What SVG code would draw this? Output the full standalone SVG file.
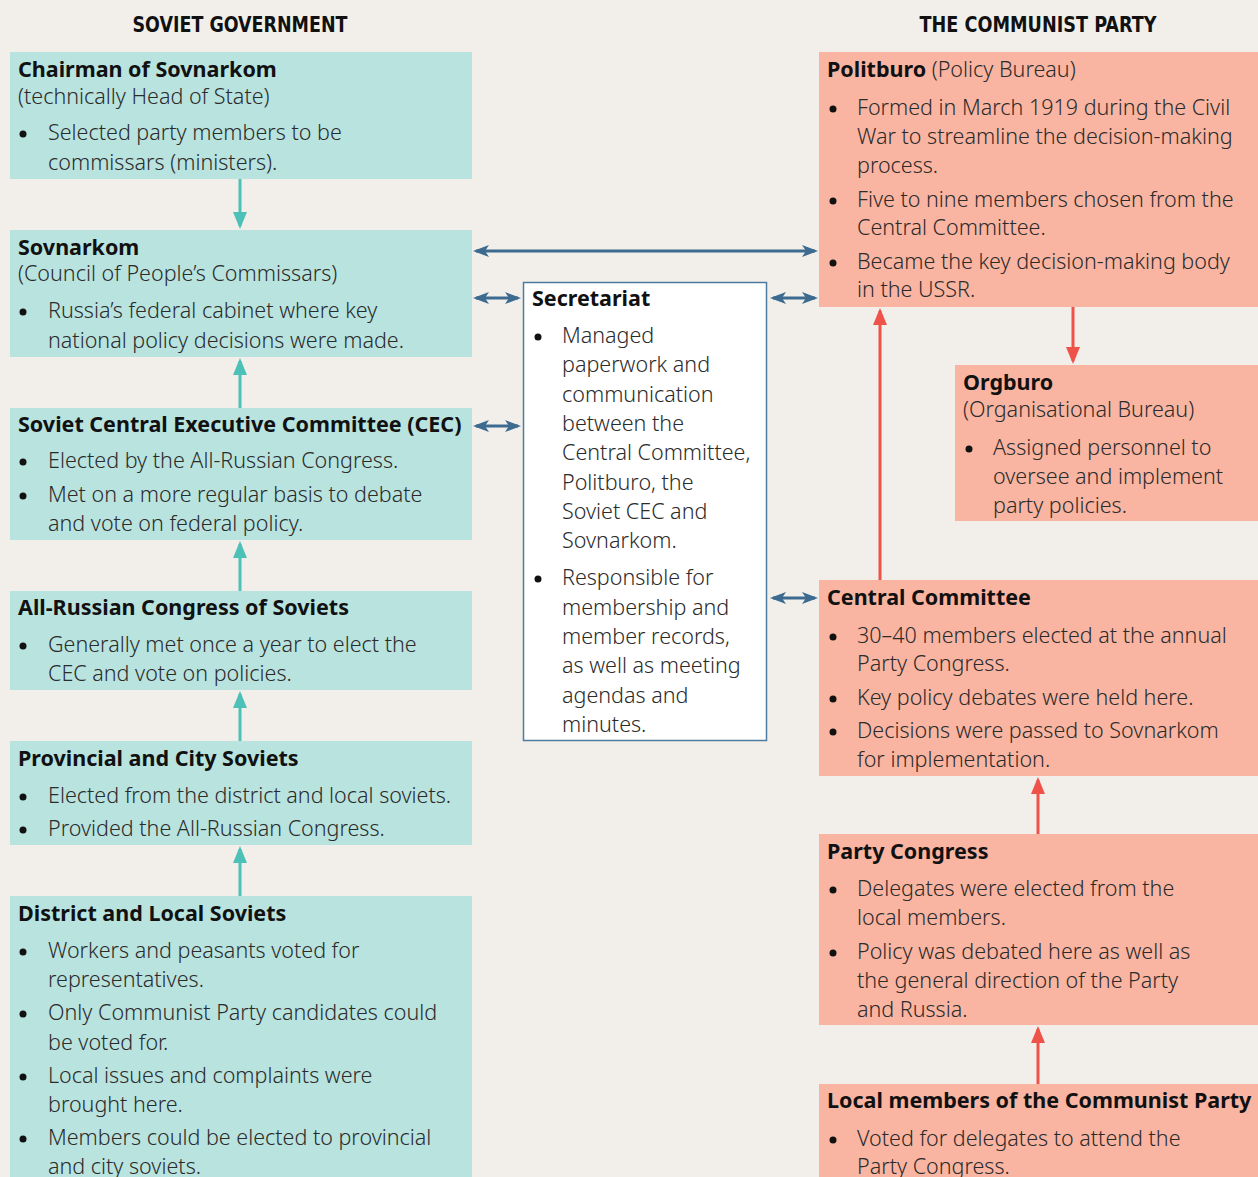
<svg xmlns="http://www.w3.org/2000/svg" width="1258" height="1177" viewBox="0 0 1258 1177">
  <style>
    .head { font-family: "DejaVu Sans", "Liberation Sans", sans-serif; font-stretch: condensed; font-weight: bold; font-size: 22px; fill: #111; text-anchor: middle; }
    .title { font-family: "Noto Sans", "Open Sans", sans-serif; font-weight: bold; font-size: 21.5px; fill: #111; }
    .body { font-family: "Noto Sans", "Open Sans", sans-serif; font-weight: 300; font-size: 21.5px; fill: #2b2b2b; }
    .gov { fill: #b9e3df; }
    .party { fill: #f9b5a2; }
    .sec { fill: #ffffff; stroke: #4d7ba0; stroke-width: 1.5; }
    .dot { fill: #111; }
    .teal { stroke: #4dc0b7; stroke-width: 3; fill: none; }
    .red { stroke: #ef5249; stroke-width: 3; fill: none; }
    .blue { stroke: #3d6a8f; stroke-width: 3; fill: none; }
  </style>
  <defs>
    <marker id="ah-teal" markerUnits="userSpaceOnUse" markerWidth="17" markerHeight="14" refX="14" refY="7" orient="auto">
      <path d="M0,0 L17,7 L0,14 z" fill="#4dc0b7"/>
    </marker>
    <marker id="ah-red" markerUnits="userSpaceOnUse" markerWidth="17" markerHeight="14" refX="14" refY="7" orient="auto">
      <path d="M0,0 L17,7 L0,14 z" fill="#ef5249"/>
    </marker>
    <marker id="ah-blue" markerUnits="userSpaceOnUse" markerWidth="16" markerHeight="12" refX="13" refY="6" orient="auto-start-reverse">
      <path d="M0,0 L16,6 L0,12 L4,6 z" fill="#3d6a8f"/>
    </marker>
  </defs>

  <rect width="1258" height="1177" fill="#f2efea"/>

  <!-- column headings -->
  <text class="head" x="240" y="32" textLength="215" lengthAdjust="spacingAndGlyphs">SOVIET GOVERNMENT</text>
  <text class="head" x="1038" y="32" textLength="237" lengthAdjust="spacingAndGlyphs">THE COMMUNIST PARTY</text>

  <!-- connectors -->
  <g id="connectors">
    <line class="teal" x1="240" y1="179" x2="240" y2="226" marker-end="url(#ah-teal)"/>
    <line class="teal" x1="240" y1="408" x2="240" y2="361" marker-end="url(#ah-teal)"/>
    <line class="teal" x1="240" y1="591" x2="240" y2="544" marker-end="url(#ah-teal)"/>
    <line class="teal" x1="240" y1="741" x2="240" y2="694" marker-end="url(#ah-teal)"/>
    <line class="teal" x1="240" y1="896" x2="240" y2="849" marker-end="url(#ah-teal)"/>

    <line class="red" x1="880" y1="580" x2="880" y2="311" marker-end="url(#ah-red)"/>
    <line class="red" x1="1073" y1="307" x2="1073" y2="361" marker-end="url(#ah-red)"/>
    <line class="red" x1="1038" y1="834" x2="1038" y2="780" marker-end="url(#ah-red)"/>
    <line class="red" x1="1038" y1="1084" x2="1038" y2="1029" marker-end="url(#ah-red)"/>

    <line class="blue" x1="476" y1="251" x2="815" y2="251" marker-start="url(#ah-blue)" marker-end="url(#ah-blue)"/>
    <line class="blue" x1="476" y1="298" x2="518" y2="298" marker-start="url(#ah-blue)" marker-end="url(#ah-blue)"/>
    <line class="blue" x1="773" y1="298" x2="815" y2="298" marker-start="url(#ah-blue)" marker-end="url(#ah-blue)"/>
    <line class="blue" x1="476" y1="426" x2="518" y2="426" marker-start="url(#ah-blue)" marker-end="url(#ah-blue)"/>
    <line class="blue" x1="773" y1="598" x2="815" y2="598" marker-start="url(#ah-blue)" marker-end="url(#ah-blue)"/>
  </g>

  <!-- Soviet government column -->
  <g id="chairman">
    <rect class="gov" x="10" y="52" width="462" height="127"/>
    <text class="title" x="18" y="77">Chairman of Sovnarkom</text>
    <text class="body" x="18" y="104">(technically Head of State)</text>
    <circle class="dot" cx="23" cy="134" r="3.5"/>
    <text class="body" x="48" y="140">Selected party members to be</text>
    <text class="body" x="48" y="170">commissars (ministers).</text>
  </g>

  <g id="sovnarkom">
    <rect class="gov" x="10" y="230" width="462" height="127"/>
    <text class="title" x="18" y="255">Sovnarkom</text>
    <text class="body" x="18" y="281">(Council of People’s Commissars)</text>
    <circle class="dot" cx="23" cy="312" r="3.5"/>
    <text class="body" x="48" y="318">Russia’s federal cabinet where key</text>
    <text class="body" x="48" y="348">national policy decisions were made.</text>
  </g>

  <g id="cec">
    <rect class="gov" x="10" y="408" width="462" height="132"/>
    <text class="title" x="18" y="432">Soviet Central Executive Committee (CEC)</text>
    <circle class="dot" cx="23" cy="462" r="3.5"/>
    <text class="body" x="48" y="468">Elected by the All-Russian Congress.</text>
    <circle class="dot" cx="23" cy="496" r="3.5"/>
    <text class="body" x="48" y="502">Met on a more regular basis to debate</text>
    <text class="body" x="48" y="531">and vote on federal policy.</text>
  </g>

  <g id="all-russian-congress">
    <rect class="gov" x="10" y="591" width="462" height="99"/>
    <text class="title" x="18" y="615">All-Russian Congress of Soviets</text>
    <circle class="dot" cx="23" cy="646" r="3.5"/>
    <text class="body" x="48" y="652">Generally met once a year to elect the</text>
    <text class="body" x="48" y="681">CEC and vote on policies.</text>
  </g>

  <g id="provincial-soviets">
    <rect class="gov" x="10" y="741" width="462" height="104"/>
    <text class="title" x="18" y="766">Provincial and City Soviets</text>
    <circle class="dot" cx="23" cy="797" r="3.5"/>
    <text class="body" x="48" y="803">Elected from the district and local soviets.</text>
    <circle class="dot" cx="23" cy="830" r="3.5"/>
    <text class="body" x="48" y="836">Provided the All-Russian Congress.</text>
  </g>

  <g id="district-soviets">
    <rect class="gov" x="10" y="896" width="462" height="290"/>
    <text class="title" x="18" y="921">District and Local Soviets</text>
    <circle class="dot" cx="23" cy="952" r="3.5"/>
    <text class="body" x="48" y="958">Workers and peasants voted for</text>
    <text class="body" x="48" y="987">representatives.</text>
    <circle class="dot" cx="23" cy="1014" r="3.5"/>
    <text class="body" x="48" y="1020">Only Communist Party candidates could</text>
    <text class="body" x="48" y="1050">be voted for.</text>
    <circle class="dot" cx="23" cy="1077" r="3.5"/>
    <text class="body" x="48" y="1083">Local issues and complaints were</text>
    <text class="body" x="48" y="1112">brought here.</text>
    <circle class="dot" cx="23" cy="1139" r="3.5"/>
    <text class="body" x="48" y="1145">Members could be elected to provincial</text>
    <text class="body" x="48" y="1174">and city soviets.</text>
  </g>

  <!-- Secretariat in the middle -->
  <g id="secretariat">
    <rect class="sec" x="523.5" y="282.5" width="243" height="458"/>
    <text class="title" x="532" y="306">Secretariat</text>
    <circle class="dot" cx="538" cy="337" r="3.5"/>
    <text class="body" x="562" y="343">Managed</text>
    <text class="body" x="562" y="372">paperwork and</text>
    <text class="body" x="562" y="402">communication</text>
    <text class="body" x="562" y="431">between the</text>
    <text class="body" x="562" y="460">Central Committee,</text>
    <text class="body" x="562" y="490">Politburo, the</text>
    <text class="body" x="562" y="519">Soviet CEC and</text>
    <text class="body" x="562" y="548">Sovnarkom.</text>
    <circle class="dot" cx="538" cy="579" r="3.5"/>
    <text class="body" x="562" y="585">Responsible for</text>
    <text class="body" x="562" y="615">membership and</text>
    <text class="body" x="562" y="644">member records,</text>
    <text class="body" x="562" y="673">as well as meeting</text>
    <text class="body" x="562" y="703">agendas and</text>
    <text class="body" x="562" y="732">minutes.</text>
  </g>

  <!-- Communist Party column -->
  <g id="politburo">
    <rect class="party" x="819" y="52" width="439" height="255"/>
    <text x="827" y="77"><tspan class="title">Politburo</tspan><tspan class="body"> (Policy Bureau)</tspan></text>
    <circle class="dot" cx="833" cy="109" r="3.5"/>
    <text class="body" x="857" y="115">Formed in March 1919 during the Civil</text>
    <text class="body" x="857" y="144">War to streamline the decision-making</text>
    <text class="body" x="857" y="173">process.</text>
    <circle class="dot" cx="833" cy="201" r="3.5"/>
    <text class="body" x="857" y="207">Five to nine members chosen from the</text>
    <text class="body" x="857" y="235">Central Committee.</text>
    <circle class="dot" cx="833" cy="263" r="3.5"/>
    <text class="body" x="857" y="269">Became the key decision-making body</text>
    <text class="body" x="857" y="297">in the USSR.</text>
  </g>

  <g id="orgburo">
    <rect class="party" x="955" y="365" width="303" height="156"/>
    <text class="title" x="963" y="390">Orgburo</text>
    <text class="body" x="963" y="417">(Organisational Bureau)</text>
    <circle class="dot" cx="969" cy="449" r="3.5"/>
    <text class="body" x="993" y="455">Assigned personnel to</text>
    <text class="body" x="993" y="484">oversee and implement</text>
    <text class="body" x="993" y="513">party policies.</text>
  </g>

  <g id="central-committee">
    <rect class="party" x="819" y="580" width="439" height="196"/>
    <text class="title" x="827" y="605">Central Committee</text>
    <circle class="dot" cx="833" cy="637" r="3.5"/>
    <text class="body" x="857" y="643">30–40 members elected at the annual</text>
    <text class="body" x="857" y="671">Party Congress.</text>
    <circle class="dot" cx="833" cy="699" r="3.5"/>
    <text class="body" x="857" y="705">Key policy debates were held here.</text>
    <circle class="dot" cx="833" cy="732" r="3.5"/>
    <text class="body" x="857" y="738">Decisions were passed to Sovnarkom</text>
    <text class="body" x="857" y="767">for implementation.</text>
  </g>

  <g id="party-congress">
    <rect class="party" x="819" y="834" width="439" height="191"/>
    <text class="title" x="827" y="859">Party Congress</text>
    <circle class="dot" cx="833" cy="890" r="3.5"/>
    <text class="body" x="857" y="896">Delegates were elected from the</text>
    <text class="body" x="857" y="925">local members.</text>
    <circle class="dot" cx="833" cy="953" r="3.5"/>
    <text class="body" x="857" y="959">Policy was debated here as well as</text>
    <text class="body" x="857" y="988">the general direction of the Party</text>
    <text class="body" x="857" y="1017">and Russia.</text>
  </g>

  <g id="local-members">
    <rect class="party" x="819" y="1084" width="439" height="102"/>
    <text class="title" x="827" y="1108">Local members of the Communist Party</text>
    <circle class="dot" cx="833" cy="1140" r="3.5"/>
    <text class="body" x="857" y="1146">Voted for delegates to attend the</text>
    <text class="body" x="857" y="1174">Party Congress.</text>
  </g>
</svg>
